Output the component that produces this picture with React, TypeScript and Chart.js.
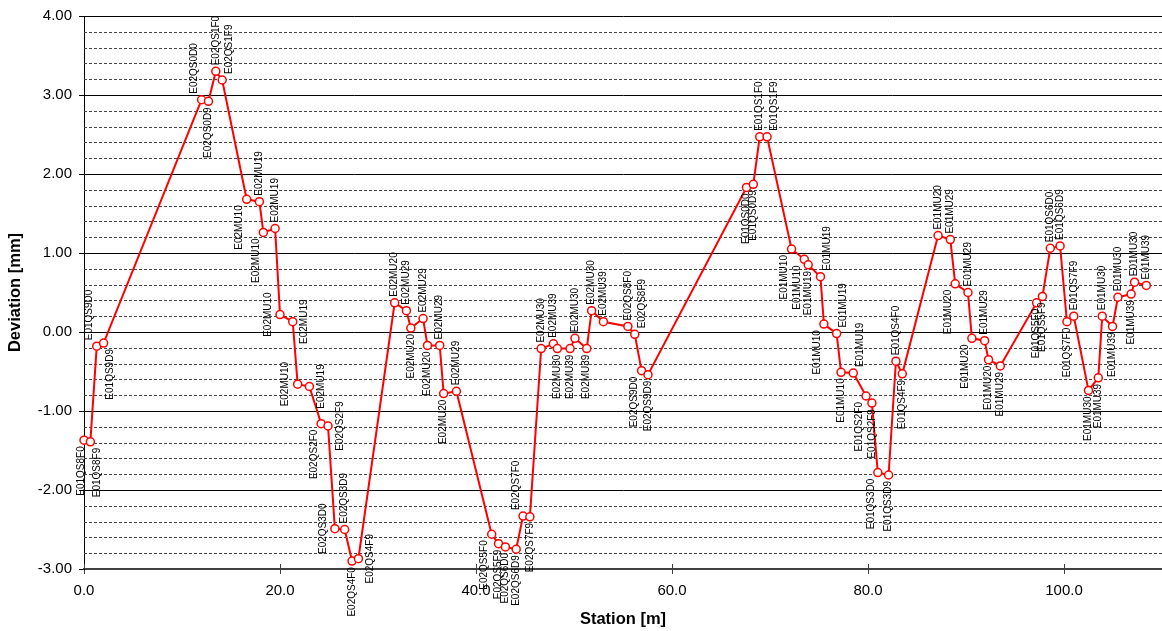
import React, { useEffect, useRef } from "react";
import { Chart, registerables } from "chart.js";

Chart.register(...registerables);

const stations: number[] = [
  0.0, 0.65, 1.3, 2.0, 12.0, 12.7, 13.45, 14.1, 16.6, 17.9, 18.3, 19.5, 20.0, 21.3, 21.8, 23.0,
  24.2, 24.9, 25.6, 26.6, 27.35, 28.0, 31.7, 32.9, 33.35, 34.6, 35.05, 36.3, 36.7, 38.0,
  41.6, 42.3, 43.0, 44.1, 44.8, 45.5, 46.65, 47.9, 48.3, 49.6, 50.1, 51.3, 51.8, 53.0,
  55.5, 56.2, 56.9, 57.55, 67.6, 68.3, 68.95, 69.7, 72.2, 73.5, 73.9, 75.15, 75.5, 76.8,
  77.25, 78.5, 79.8, 80.4, 81.0, 82.1, 82.85, 83.5, 87.15, 88.4, 88.9, 90.2, 90.6, 91.9,
  92.3, 93.5, 97.2, 97.8, 98.6, 99.6, 100.3, 101.0, 102.5, 103.5, 103.9, 104.95, 105.5,
  106.85, 107.2, 108.4,
];

const deviations: number[] = [
  -1.37, -1.39, -0.18, -0.14, 2.94, 2.92, 3.3, 3.19, 1.68, 1.65, 1.26, 1.31, 0.22, 0.13, -0.66, -0.69,
  -1.16, -1.19, -2.49, -2.5, -2.9, -2.87, 0.37, 0.27, 0.05, 0.17, -0.17, -0.17, -0.78, -0.75,
  -2.56, -2.68, -2.72, -2.75, -2.33, -2.34, -0.21, -0.15, -0.21, -0.21, -0.08, -0.21, 0.27, 0.13,
  0.07, -0.03, -0.49, -0.54, 1.83, 1.87, 2.47, 2.47, 1.05, 0.92, 0.85, 0.7, 0.1, -0.02,
  -0.51, -0.52, -0.81, -0.9, -1.78, -1.81, -0.37, -0.53, 1.22, 1.17, 0.61, 0.5, -0.08, -0.11,
  -0.35, -0.43, 0.37, 0.45, 1.06, 1.09, 0.13, 0.2, -0.74, -0.58, 0.2, 0.07, 0.44,
  0.48, 0.63, 0.59,
];

const pointNames: string[] = [
  "E01QS8F0", "E01QS8F9", "E01QS9D0", "E01QS9D9", "E02QS0D0", "E02QS0D9", "E02QS1F0", "E02QS1F9",
  "E02MU10", "E02MU19", "E02MU10", "E02MU19", "E02MU10", "E02MU19", "E02MU10", "E02MU19",
  "E02QS2F0", "E02QS2F9", "E02QS3D0", "E02QS3D9", "E02QS4F0", "E02QS4F9",
  "E02MU20", "E02MU29", "E02MU20", "E02MU29", "E02MU20", "E02MU29", "E02MU20", "E02MU29",
  "E02QS5F0", "E02QS5F9", "E02QS6D0", "E02QS6D9", "E02QS7F0", "E02QS7F9",
  "E02MU30", "E02MU39", "E02MU30", "E02MU39", "E02MU30", "E02MU39", "E02MU30", "E02MU39",
  "E02QS8F0", "E02QS8F9", "E02QS9D0", "E02QS9D9", "E01QS0D0", "E01QS0D9", "E01QS1F0", "E01QS1F9",
  "E01MU10", "E01MU10", "E01MU19", "E01MU19", "E01MU10", "E01MU19", "E01MU10", "E01MU19",
  "E01QS2F0", "E01QS2F9", "E01QS3D0", "E01QS3D9", "E01QS4F0", "E01QS4F9",
  "E01MU20", "E01MU29", "E01MU20", "E01MU29", "E01MU20", "E01MU29", "E01MU20", "E01MU29",
  "E01QS5F0", "E01QS5F9", "E01QS6D0", "E01QS6D9", "E01QS7F0", "E01QS7F9",
  "E01MU30", "E01MU39", "E01MU30", "E01MU39", "E01MU30", "E01MU39", "E01MU30", "E01MU39",
];

// label placement: T = above, B = below, L = left, R = right; l/r = nudge
const labelPlacement: string[] = [
  "Bl", "Br", "Tl", "Br", "Tl", "B", "T", "Tr",
  "Bl", "T", "Bl", "T", "L", "R", "L", "R",
  "Bl", "R", "L", "T", "B", "R",
  "T", "T", "B", "T", "B", "T", "B", "T",
  "Bl", "B", "B", "B", "Tl", "B",
  "T", "T", "B", "B", "T", "B", "T", "T",
  "T", "Tr", "Bl", "B", "B", "B", "T", "Tr",
  "Bl", "Bl", "B", "Tr", "Bl", "Tr", "B", "Tr",
  "Bl", "B", "Bl", "B", "T", "B",
  "T", "T", "Bl", "T", "Bl", "T", "B", "B",
  "B", "B", "T", "T", "B", "T",
  "B", "B", "T", "B", "T", "B", "T", "T",
];

const xTickValues: number[] = [0, 20, 40, 60, 80, 100];
const minorStep = 0.2;

const FONT = '"Liberation Sans", Arial, Helvetica, sans-serif';

const minorGridPlugin = {
  id: "minorGrid",
  beforeDatasetsDraw(chart: any) {
    const ctx: CanvasRenderingContext2D = chart.ctx;
    const ys = chart.scales.y;
    const { left, right } = chart.chartArea;
    ctx.save();
    ctx.strokeStyle = "#444444";
    ctx.lineWidth = 1;
    ctx.setLineDash([3, 2]);
    const n = Math.round((ys.max - ys.min) / minorStep);
    for (let k = 0; k <= n; k++) {
      const v = ys.min + k * minorStep;
      if (Math.abs(v - Math.round(v)) < 1e-6) continue;
      const py = Math.round(ys.getPixelForValue(v)) + 0.5;
      ctx.beginPath();
      ctx.moveTo(left, py);
      ctx.lineTo(right, py);
      ctx.stroke();
    }
    ctx.restore();
  },
};

const labelPlugin = {
  id: "pointNameLabels",
  afterDatasetsDraw(chart: any) {
    const ctx: CanvasRenderingContext2D = chart.ctx;
    const meta = chart.getDatasetMeta(0);
    ctx.save();
    ctx.font = `10px ${FONT}`;
    ctx.fillStyle = "#000";
    ctx.textBaseline = "middle";
    meta.data.forEach((el: any, i: number) => {
      const code = labelPlacement[i] || "T";
      const v = code[0];
      const h = code[1];
      let dx = 0;
      let dy = 0;
      let align: CanvasTextAlign = "center";
      if (v === "T") {
        dy = -6;
        align = "left";
      } else if (v === "B") {
        dy = 6;
        align = "right";
      } else if (v === "L") {
        dx = -12;
      } else if (v === "R") {
        dx = 12;
      }
      if (h === "l") dx = v === "B" && i === 0 ? -3 : -7;
      if (h === "r") dx = 7;
      ctx.save();
      ctx.translate(el.x + dx, el.y + dy);
      ctx.rotate(-Math.PI / 2);
      ctx.textAlign = align;
      ctx.fillText(pointNames[i], 0, 0);
      ctx.restore();
    });
    const xs = chart.scales.x;
    const bottom = chart.chartArea.bottom;
    ctx.strokeStyle = "#404040";
    ctx.lineWidth = 1;
    xs.ticks.forEach((t: any) => {
      const px = Math.round(xs.getPixelForValue(t.value)) + 0.5;
      ctx.beginPath();
      ctx.moveTo(px, bottom);
      ctx.lineTo(px, bottom - 5);
      ctx.stroke();
    });
    ctx.restore();
  },
};

export default function App() {
  const canvasRef = useRef<HTMLCanvasElement | null>(null);

  useEffect(() => {
    if (!canvasRef.current) return;
    const points = stations.map((s, i) => ({ x: s, y: deviations[i] }));
    const chart = new Chart(canvasRef.current, {
      type: "scatter",
      data: {
        datasets: [
          {
            data: points,
            showLine: true,
            borderColor: "#ff0000",
            borderWidth: 2,
            pointRadius: 4,
            pointBorderWidth: 1.5,
            pointBackgroundColor: "#ffffff",
            pointBorderColor: "#ff0000",
            tension: 0,
            clip: false as any,
          },
        ],
      },
      options: {
        animation: false,
        responsive: false,
        devicePixelRatio: 1,
        layout: { autoPadding: false, padding: { top: 14, left: 0, right: 0, bottom: 0 } },
        plugins: {
          legend: { display: false },
          tooltip: { enabled: false },
        },
        scales: {
          x: {
            type: "linear",
            min: 0,
            max: 110,
            afterBuildTicks: (scale: any) => {
              scale.ticks = xTickValues.map((v) => ({ value: v }));
            },
            afterFit: (scale: any) => {
              scale.height = 62;
              scale.paddingRight = 0;
              scale.paddingLeft = 0;
            },
            ticks: {
              stepSize: 20,
              color: "#000",
              padding: 8,
              font: { family: FONT, size: 15 },
              callback: (v: any) => Number(v).toFixed(1),
            },
            grid: {
              drawOnChartArea: false,
              drawTicks: true,
              tickLength: 5,
              tickColor: "#404040",
            },
            border: { display: true, color: "#404040", width: 2 },
            title: {
              display: true,
              text: "Station [m]",
              color: "#000",
              font: { family: FONT, size: 16.5, weight: "bold" },
              padding: { top: 0, bottom: 2 },
            },
          },
          y: {
            type: "linear",
            min: -3,
            max: 4,
            afterFit: (scale: any) => {
              scale.width = 84;
            },
            ticks: {
              stepSize: 1,
              color: "#000",
              padding: 7,
              font: { family: FONT, size: 15 },
              callback: (v: any) => Number(v).toFixed(2),
            },
            grid: {
              color: "#000",
              lineWidth: 1,
              tickLength: 5,
              tickColor: "#000",
            },
            border: { display: true, color: "#000", width: 1 },
            title: {
              display: true,
              text: "Deviation [mm]",
              color: "#000",
              font: { family: FONT, size: 16.5, weight: "bold" },
              padding: { top: 6, bottom: 0 },
            },
          },
        },
      } as any,
      plugins: [minorGridPlugin, labelPlugin],
    });
    return () => chart.destroy();
  }, []);

  return (
    <div style={{ position: "absolute", left: 0, top: 0, width: 1162, height: 631, background: "#fff" }}>
      <canvas ref={canvasRef} width={1162} height={631} style={{ width: 1162, height: 631, display: "block" }} />
    </div>
  );
}
